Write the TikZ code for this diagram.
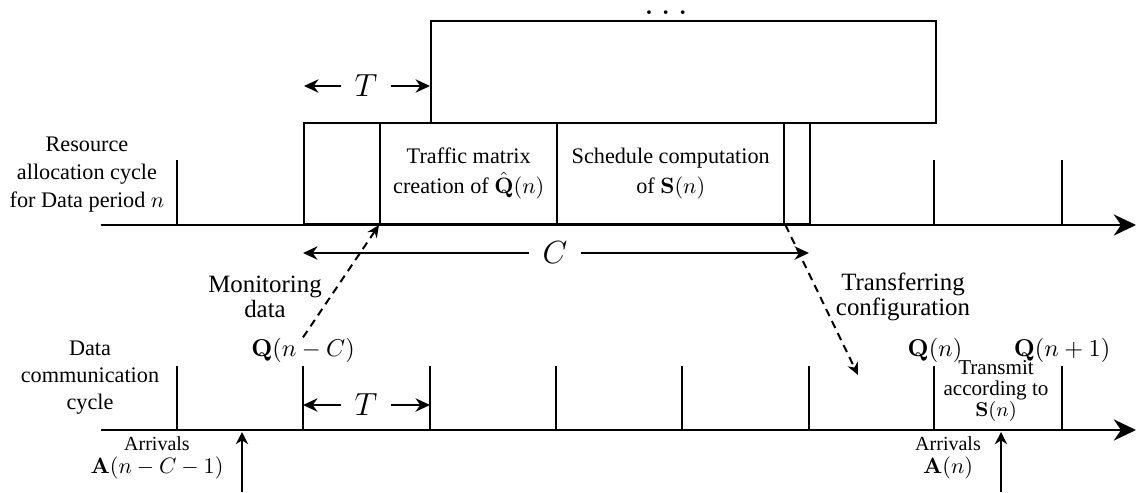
\documentclass[tikz,border=0pt]{standalone}
\usepackage[no-math]{fontspec}
\setmainfont{Liberation Serif}
\usetikzlibrary{arrows.meta}
\begin{document}
\begin{tikzpicture}[x=0.45pt,y=-0.45pt,
  axis/.style={line width=1.2pt,-{Stealth[length=10pt,width=9.5pt]}},
  tickline/.style={line width=0.5pt},
  blk/.style={draw,line width=1.1pt,inner sep=0pt,anchor=south west,
              align=center,font=\fontsize{10}{13.5}\selectfont},
  dim/.style={line width=0.9pt,-{Stealth[length=6.5pt,width=6pt]}},
  dimlbl/.style={inner sep=6pt,font=\Large},
  dasharrow/.style={line width=0.9pt,dash pattern=on 3.5pt off 2.5pt,
                    -{Stealth[length=5.5pt,width=5pt]}},
  arrival/.style={line width=1pt,-{Stealth[length=5.5pt,width=5.5pt]}},
  lbl/.style={align=center,inner sep=0pt}
]
\useasboundingbox (0,0) rectangle (1138,492);

% time axes
\coordinate (ua0) at (101,225); \coordinate (ua1) at (1136,225);
\coordinate (la0) at (101,430); \coordinate (la1) at (1136,430);
\draw[axis] (ua0) -- (ua1);
\draw[axis] (la0) -- (la1);

% ticks on the resource allocation axis
\foreach \x in {177,934,1062} \draw[tickline] (\x,160) -- (\x,225);
% ticks on the data communication axis
\foreach \x in {177,303,430,556,682,809,934,1062} \draw[tickline] (\x,366) -- (\x,430);

% blocks of the current cycle
\node[blk,minimum width=34.2pt,minimum height=45.45pt] (b1) at (303,225) {};
\node[blk,minimum width=79.65pt,minimum height=45.45pt] (b2) at (379,225)
  {Traffic matrix\\creation of $\hat{\mathbf{Q}}(n)$};
\node[blk,minimum width=102.15pt,minimum height=45.45pt] (b3) at (556,225)
  {Schedule computation\\of $\mathbf{S}(n)$};
\node[blk,minimum width=11.7pt,minimum height=45.45pt] (b4) at (783,225) {};
% next cycle
\node[blk,minimum width=227.25pt,minimum height=45.9pt] (nxt) at (430,124) {};
\node[inner sep=0pt,font=\LARGE] (dots) at (666,13) {$\ldots$};

% period T (upper)
\node[dimlbl] (tu) at (366,86) {$T$};
\coordinate (tuL) at (304,86); \coordinate (tuR) at (430,86);
\draw[dim] (tu.west) -- (tuL);
\draw[dim] (tu.east) -- (tuR);

% cycle length C
\node[dimlbl] (cc) at (555,253) {$C$};
\coordinate (ccL) at (303,253); \coordinate (ccR) at (809,253);
\draw[dim] (cc.west) -- (ccL);
\draw[dim] (cc.east) -- (ccR);

% period T (lower)
\node[dimlbl] (tl) at (366,405) {$T$};
\coordinate (tlL) at (303,405); \coordinate (tlR) at (430,405);
\draw[dim] (tl.west) -- (tlL);
\draw[dim] (tl.east) -- (tlR);

% row labels
\node[lbl,font=\fontsize{10}{12.6}\selectfont] (rac) at (87,175)
  {Resource\\allocation cycle\\for Data period $n$};
\node[lbl,font=\fontsize{10}{12.2}\selectfont] (dcc) at (90,378)
  {Data\\communication\\cycle};

% monitoring and configuration transfer
\node[lbl,font=\fontsize{11.2}{11.3}\selectfont] (mon) at (265,297)
  {Monitoring\\data};
\node[lbl,font=\fontsize{11.2}{11.3}\selectfont] (tra) at (903,297)
  {Transferring\\configuration};
\node[lbl,font=\fontsize{10.5}{12}\selectfont] (qnc) at (303,350) {$\mathbf{Q}(n-C)$};
\node[lbl,font=\fontsize{10.5}{12}\selectfont] (qn) at (935,350) {$\mathbf{Q}(n)$};
\node[lbl,font=\fontsize{10.5}{12}\selectfont] (qn1) at (1062,350) {$\mathbf{Q}(n+1)$};
\coordinate (cfg) at (858,375);
\draw[dasharrow] (qnc.north) -- (b2.south west);
\draw[dasharrow] (b3.south east) -- (cfg);

% transmission
\node[lbl,font=\fontsize{9.5}{9.6}\selectfont] (tx) at (996,391)
  {Transmit\\according to\\$\mathbf{S}(n)$};

% arrivals
\node[lbl,font=\fontsize{9}{10.5}\selectfont] (arr1) at (157,458)
  {Arrivals\\{\fontsize{10}{10.5}\selectfont$\mathbf{A}(n-C-1)$}};
\node[lbl,font=\fontsize{9}{10.5}\selectfont] (arr2) at (948,458)
  {Arrivals\\{\fontsize{10}{10.5}\selectfont$\mathbf{A}(n)$}};
\coordinate (a1s) at (242,492); \coordinate (a1t) at (242,432);
\coordinate (a2s) at (1001,492); \coordinate (a2t) at (1001,432);
\draw[arrival] (a1s) -- (a1t);
\draw[arrival] (a2s) -- (a2t);
\end{tikzpicture}
\end{document}
